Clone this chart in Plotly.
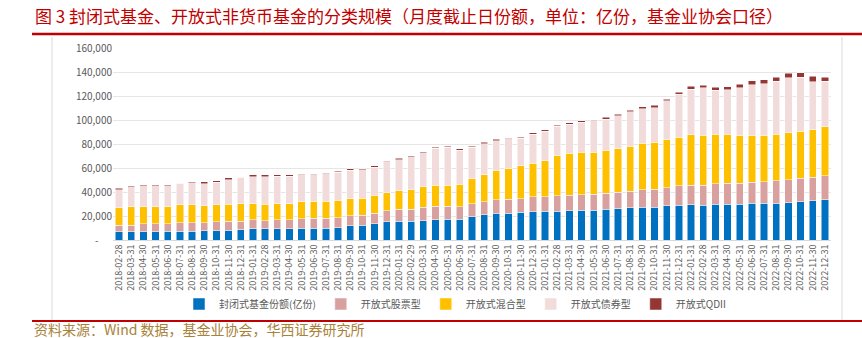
import plotly.graph_objects as go
import pandas as pd

dates = [d.strftime("%Y-%m-%d") for d in pd.date_range("2018-02-28", "2022-12-31", freq="ME")]

closed = [6.7, 7.0, 7.0, 7.0, 7.2, 7.5, 7.5, 7.8, 7.8, 8.3, 8.6, 9.2, 9.2, 9.2, 9.5, 10.0, 10.0, 10.0, 10.3, 11.7,
          12.2, 13.6, 15.3, 15.8, 15.8, 16.1, 16.7, 17.2, 17.5, 19.5, 21.0, 22.2, 22.2, 23.0, 23.7, 23.8, 23.8, 24.2, 24.7, 24.7,
          25.6, 26.1, 26.7, 27.2, 27.2, 28.6, 28.9, 29.2, 28.9, 29.7, 30.0, 30.0, 30.6, 30.6, 30.6, 31.1, 31.9, 32.8, 33.6]
stock = [5.8, 5.5, 6.6, 6.6, 6.4, 6.7, 6.7, 6.4, 7.5, 7.5, 7.2, 7.5, 6.9, 7.5, 7.4, 7.8, 8.3, 8.3, 8.3, 8.6,
         8.6, 8.9, 9.1, 9.8, 10.0, 11.1, 11.3, 10.8, 10.3, 10.8, 10.8, 11.4, 11.7, 11.4, 12.2, 12.3, 13.0, 13.3, 13.1, 13.4,
         13.3, 13.6, 14.1, 14.5, 15.3, 15.0, 16.4, 16.6, 16.9, 17.2, 17.5, 17.5, 17.5, 18.0, 18.6, 19.2, 19.5, 19.7, 20.0]
mixed = [14.5, 15.3, 14.2, 14.2, 14.2, 15.0, 15.0, 14.4, 14.1, 14.2, 14.5, 13.6, 13.9, 13.6, 13.4, 13.9, 13.9, 14.2, 14.4, 14.1,
         14.2, 14.7, 14.8, 15.5, 16.1, 17.0, 17.6, 17.8, 18.6, 20.7, 22.4, 24.4, 25.9, 27.4, 28.1, 30.1, 33.9, 34.8, 35.5, 35.2,
         36.1, 36.4, 37.2, 39.1, 38.9, 40.0, 40.5, 42.0, 41.4, 41.4, 40.8, 39.7, 39.4, 38.9, 39.1, 39.1, 39.4, 39.2, 40.6]
bond = [14.7, 16.4, 17.5, 17.5, 17.5, 18.0, 18.6, 18.3, 18.6, 20.3, 21.9, 22.5, 22.8, 23.0, 23.0, 22.7, 22.2, 22.8, 23.4, 23.9,
        23.6, 23.6, 26.1, 25.8, 27.3, 28.6, 30.8, 31.4, 28.6, 26.2, 26.2, 24.8, 24.4, 23.2, 24.3, 24.6, 24.0, 24.2, 25.0, 25.9,
        25.8, 27.5, 28.9, 28.6, 28.9, 32.5, 35.6, 38.0, 39.5, 36.7, 37.0, 39.7, 41.9, 42.8, 43.9, 45.9, 45.0, 40.2, 38.0]
qdii = [1.6, 1.1, 0.8, 0.8, 0.8, 0.6, 0.8, 1.7, 1.2, 1.4, 0.6, 1.4, 1.4, 0.9, 0.9, 0.6, 0.6, 0.5, 1.1, 0.9,
        0.6, 0.9, 0.5, 1.4, 1.1, 0.8, 1.1, 1.1, 1.1, 0.9, 0.9, 1.1, 0.8, 0.8, 1.1, 0.9, 1.1, 1.1, 0.9, 0.8,
        1.4, 1.4, 1.4, 1.7, 2.2, 1.4, 1.9, 2.5, 2.2, 2.5, 2.5, 2.8, 3.4, 3.3, 3.6, 3.6, 3.4, 4.5, 3.6]

series_names = ["封闭式基金份额(亿份)", "开放式股票型", "开放式混合型", "开放式债券型", "开放式QDII"]
series_vals = [closed, stock, mixed, bond, qdii]
colors = ["#0070C0", "#D9A0A0", "#FFC000", "#F2DCDB", "#943634"]

y_ticks = [0, 20000, 40000, 60000, 80000, 100000, 120000, 140000, 160000]
y_ticktext = ["-\u00a0\u00a0\u00a0\u00a0\u00a0\u00a0"] + [f"{v:,}" for v in y_ticks[1:]]

W, H = 862, 338
L, R, T, B = 113, 831, 48, 240

def px(x):
    return (x - L) / (R - L)

def py(y):
    return (B - y) / (B - T)

fig = go.Figure()
for name, vals, c in zip(series_names, series_vals, colors):
    fig.add_trace(go.Bar(
        x=dates, y=[v * 1000 for v in vals], name=name,
        marker=dict(color=c, line=dict(color="white", width=0.5)),
    ))

fig.update_layout(
    width=W, height=H,
    margin=dict(l=L, r=W - R, t=T, b=H - B),
    barmode="stack", bargap=0.4,
    plot_bgcolor="white", paper_bgcolor="white",
    font=dict(family="Noto Sans CJK SC, DejaVu Sans", color="#595959", size=10),
    showlegend=True,
    legend=dict(orientation="h", x=px(455), xanchor="center", y=py(304), yanchor="middle",
                font=dict(size=10, color="#595959"), itemwidth=30, traceorder="normal",
                tracegroupgap=0, bgcolor="rgba(0,0,0,0)"),
    xaxis=dict(type="category", tickangle=-90, tickfont=dict(size=9, color="#595959"),
               showgrid=False, showline=True, linecolor="#D9D9D9", linewidth=1, ticks="",
               dtick=1, automargin=False),
    yaxis=dict(range=[0, 160000], tickvals=y_ticks, ticktext=y_ticktext,
               tickfont=dict(size=10, color="#595959"), showgrid=True, gridcolor="#E6E6E6",
               gridwidth=1, zeroline=False, showline=False, ticks="", automargin=False),
)

shapes = [
    dict(type="line", xref="paper", yref="paper", x0=px(32), x1=px(862), y0=py(34), y1=py(34),
         line=dict(color="#C00000", width=2.5)),
    dict(type="line", xref="paper", yref="paper", x0=px(32), x1=px(862), y0=py(321), y1=py(321),
         line=dict(color="#C00000", width=2)),
    dict(type="line", xref="paper", yref="paper", x0=px(52), x1=px(52), y0=py(37), y1=py(320),
         line=dict(color="#D9D9D9", width=1)),
    dict(type="line", xref="paper", yref="paper", x0=px(842), x1=px(842), y0=py(37), y1=py(320),
         line=dict(color="#D9D9D9", width=1)),
]
fig.update_layout(shapes=shapes)

fig.add_annotation(text="图 3 封闭式基金、开放式非货币基金的分类规模（月度截止日份额，单位：亿份，基金业协会口径）",
                   xref="paper", yref="paper", x=px(33), y=py(16), xanchor="left", yanchor="middle",
                   showarrow=False, font=dict(size=17, color="#C00000", family="Noto Sans CJK SC"))
fig.add_annotation(text="资料来源：Wind 数据，基金业协会，华西证券研究所",
                   xref="paper", yref="paper", x=px(33), y=py(328.5), xanchor="left", yanchor="middle",
                   showarrow=False, borderpad=0, font=dict(size=14, color="#A8823A", family="Noto Sans CJK SC"))

fig.write_html("out.html")
